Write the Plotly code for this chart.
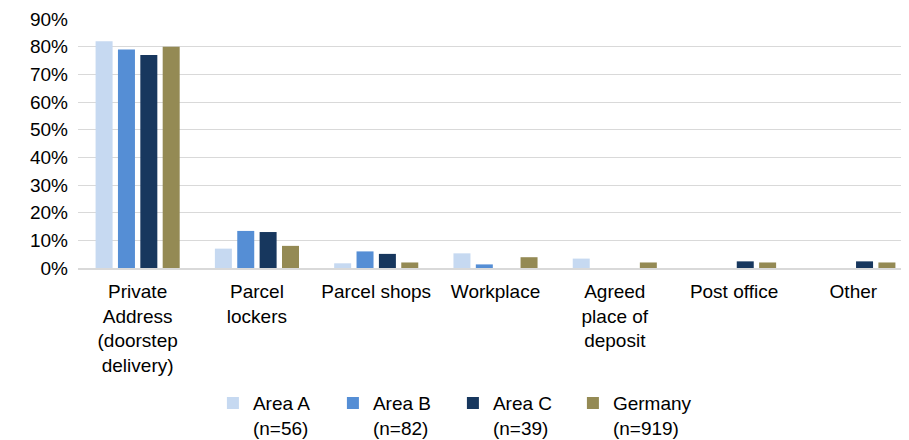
import plotly.graph_objects as go

categories = ["Private<br>Address<br>(doorstep<br>delivery)", "Parcel<br>lockers", "Parcel shops",
              "Workplace", "Agreed<br>place of<br>deposit", "Post office", "Other"]

area_a = [0.82, 0.07, 0.017, 0.053, 0.034, 0.0, 0.0]
area_b = [0.79, 0.134, 0.06, 0.013, 0.0, 0.0, 0.0]
area_c = [0.77, 0.13, 0.051, 0.0, 0.0, 0.024, 0.024]
germany = [0.80, 0.08, 0.02, 0.039, 0.02, 0.02, 0.02]

series_names = ["Area A<br>(n=56)", "Area B<br>(n=82)", "Area C<br>(n=39)", "Germany<br>(n=919)"]
colors = ["#c6d9f1", "#558ed5", "#17375e", "#948a54"]

fig = go.Figure()
for name, vals, col in zip(series_names, [area_a, area_b, area_c, germany], colors):
    fig.add_trace(go.Bar(x=categories, y=vals, name=name, marker=dict(color=col, line=dict(width=0))))

fig.update_layout(
    width=909, height=440,
    barmode="group", bargap=0.25, bargroupgap=0.24,
    margin=dict(l=70, r=4, t=11, b=180),
    paper_bgcolor="white", plot_bgcolor="white",
    font=dict(family="Liberation Sans, Arial", size=19, color="#000000"),
    legend=dict(orientation="h", x=0.449, xanchor="center", yref="container", y=0.145, yanchor="top",
                valign="top", font=dict(size=19), entrywidth=75, entrywidthmode="pixels",
                itemwidth=30, tracegroupgap=0),
    showlegend=True,
)
fig.update_yaxes(range=[0, 0.9], dtick=0.1, tickformat=".0%", showgrid=True,
                 gridcolor="#d9d9d9", gridwidth=1, zeroline=False, showline=False,
                 ticks="", ticklabelstandoff=9, automargin=False)
fig.update_xaxes(showline=True, linecolor="#d9d9d9", linewidth=2, ticks="", tickangle=0,
                 ticklabelstandoff=5, automargin=False)

fig.write_html("out.html")
